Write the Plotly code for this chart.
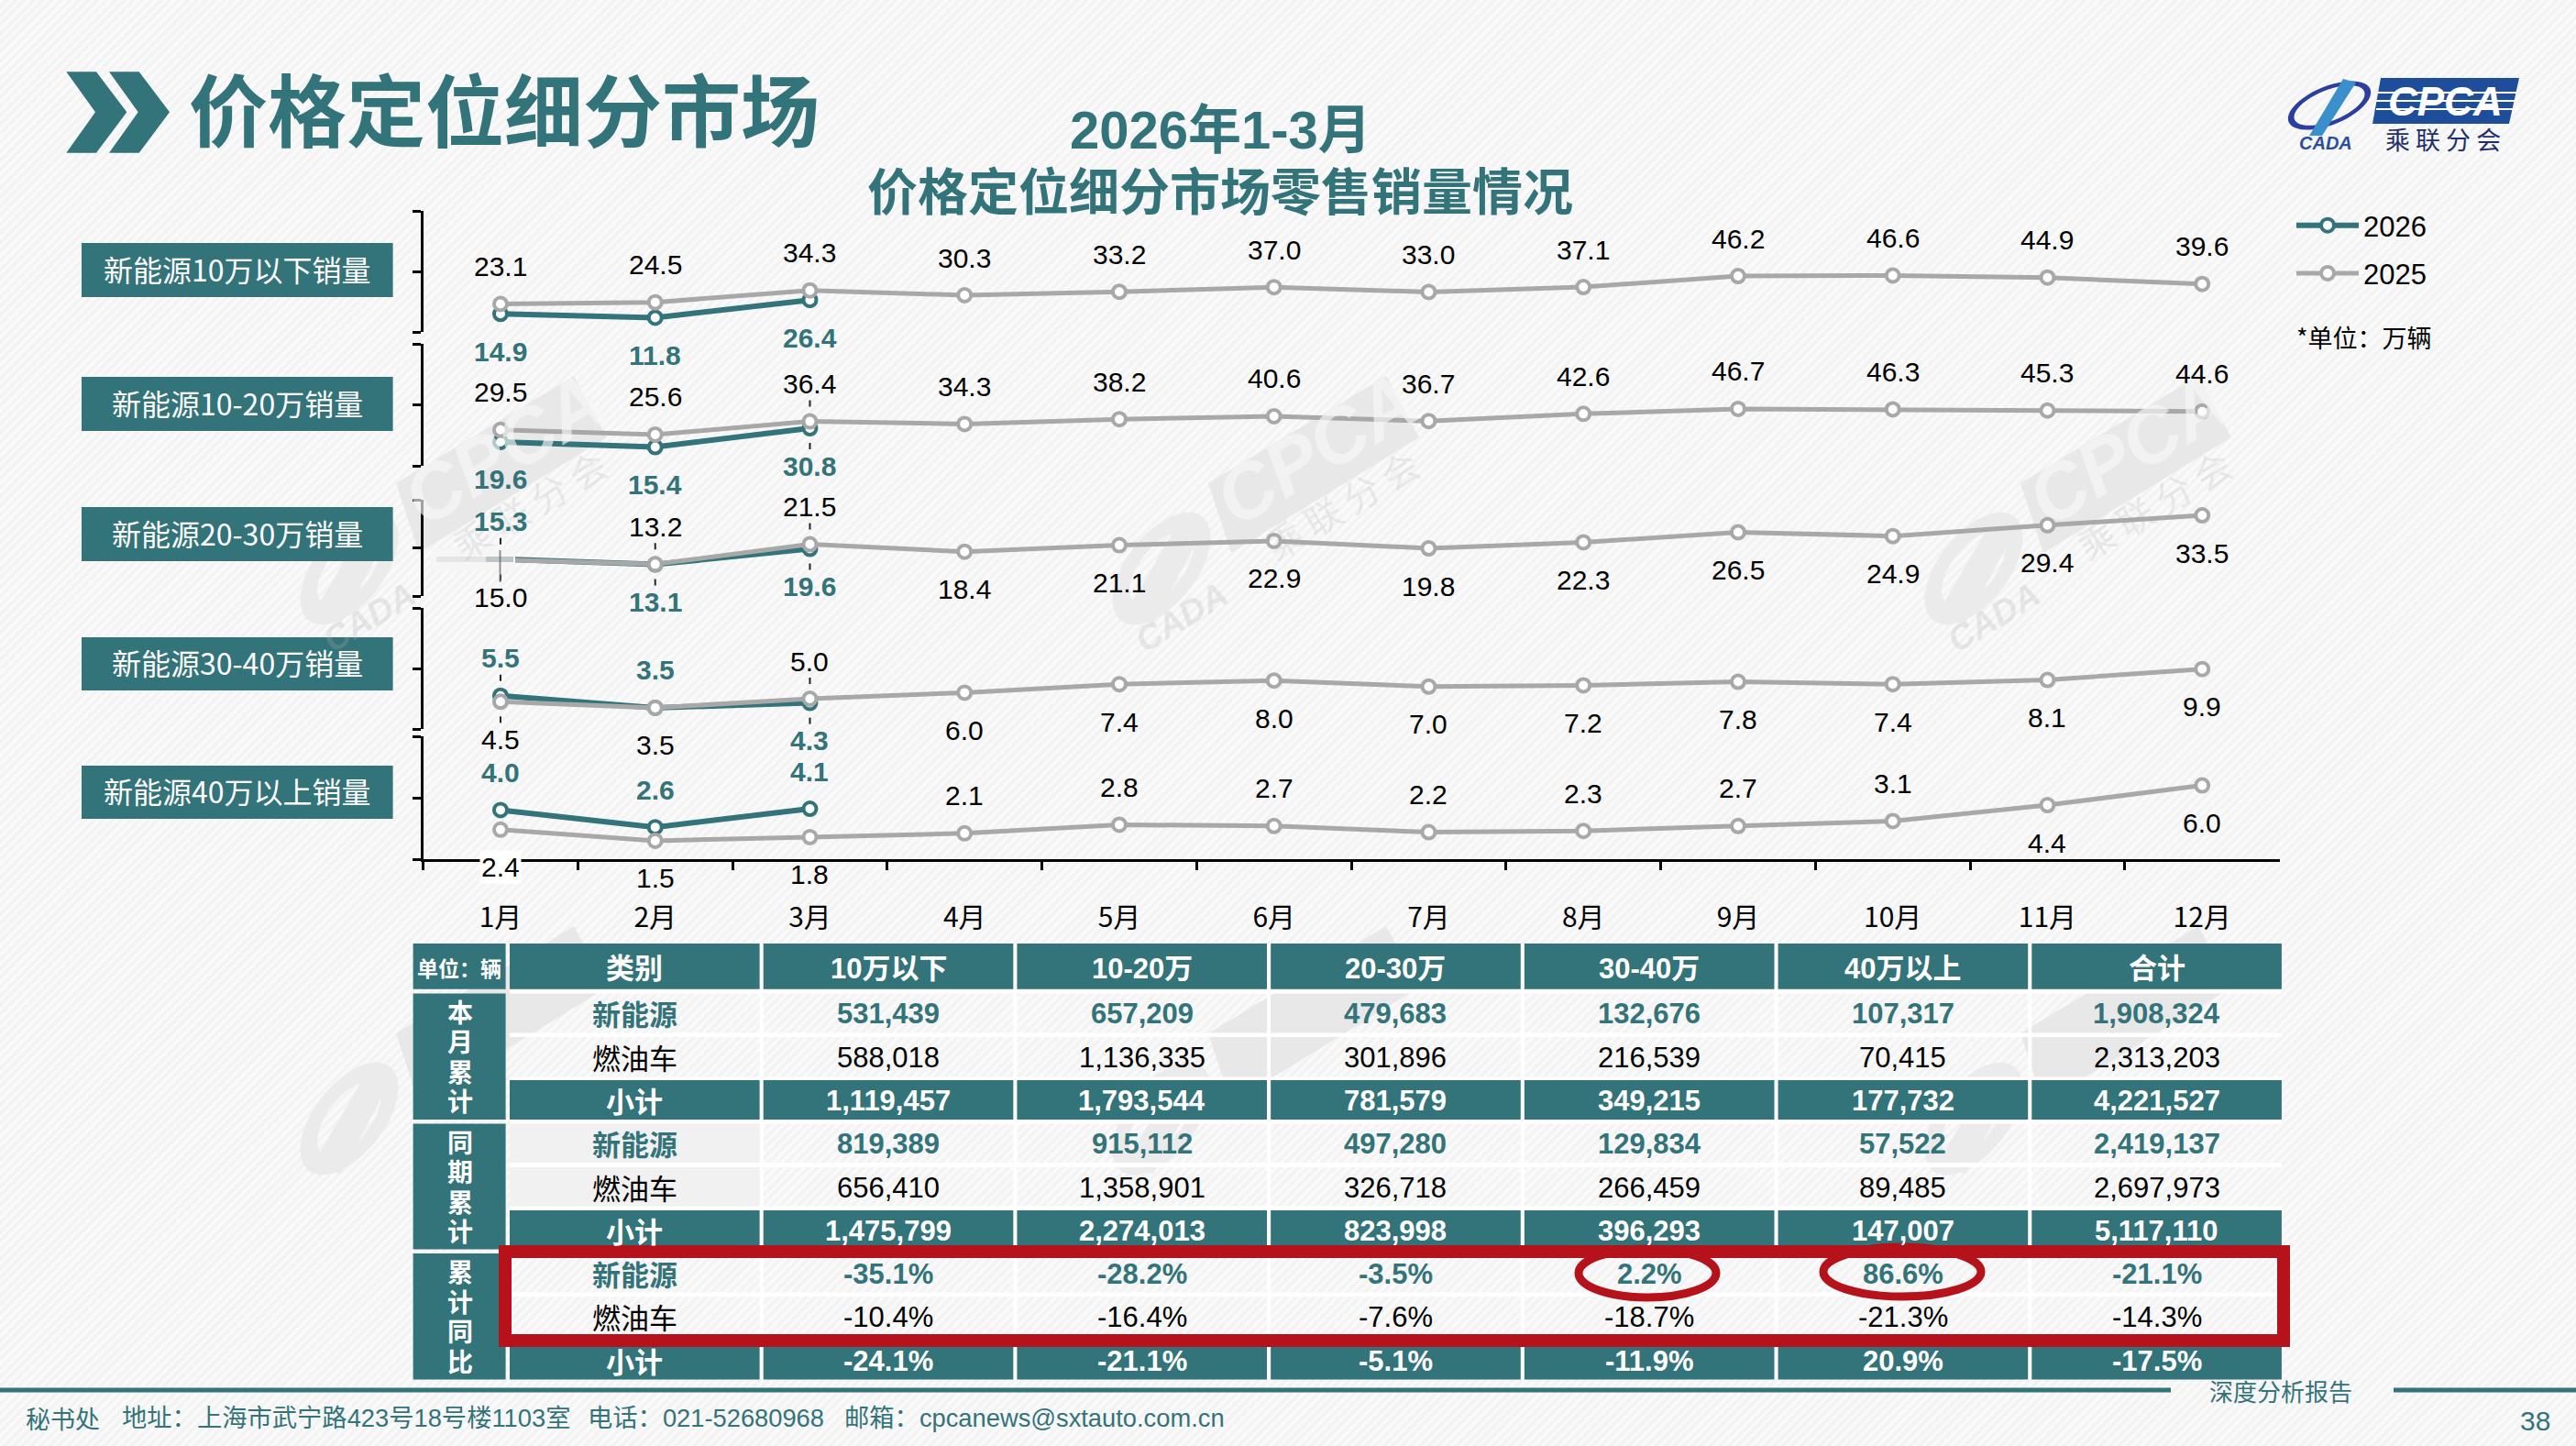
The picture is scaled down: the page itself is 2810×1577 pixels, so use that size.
import base64
import numpy as np
import plotly.graph_objects as go

W, H = 2810, 1577
TEAL = "#33737A"
GRAY = "#A8A8A8"
RED = "#B5121B"
BG = "#F6F6F6"
FONT = "Liberation Sans, Noto Sans CJK SC, sans-serif"
CJK = "Noto Sans CJK SC, Liberation Sans, sans-serif"

MONTHS = ["1月", "2月", "3月", "4月", "5月", "6月", "7月", "8月", "9月", "10月", "11月", "12月"]
SEGMENTS = ["新能源10万以下销量", "新能源10-20万销量", "新能源20-30万销量", "新能源30-40万销量", "新能源40万以上销量"]

V2026_A = [14.9, 11.8, 26.4]
V2026_B = [19.6, 15.4, 30.8]
V2026_C = [15.3, 13.1, 19.6]
V2026_D = [5.5, 3.5, 4.3]
V2026_E = [4.0, 2.6, 4.1]
V2025_A = [23.1, 24.5, 34.3, 30.3, 33.2, 37.0, 33.0, 37.1, 46.2, 46.6, 44.9, 39.6]
V2025_B = [29.5, 25.6, 36.4, 34.3, 38.2, 40.6, 36.7, 42.6, 46.7, 46.3, 45.3, 44.6]
V2025_C = [15.0, 13.2, 21.5, 18.4, 21.1, 22.9, 19.8, 22.3, 26.5, 24.9, 29.4, 33.5]
V2025_D = [4.5, 3.5, 5.0, 6.0, 7.4, 8.0, 7.0, 7.2, 7.8, 7.4, 8.1, 9.9]
V2025_E = [2.4, 1.5, 1.8, 2.1, 2.8, 2.7, 2.2, 2.3, 2.7, 3.1, 4.4, 6.0]

TABLE_COLUMNS = ["10万以下", "10-20万", "20-30万", "30-40万", "40万以上", "合计"]
YTD_NEV = [531439, 657209, 479683, 132676, 107317, 1908324]
YTD_ICE = [588018, 1136335, 301896, 216539, 70415, 2313203]
YTD_SUM = [1119457, 1793544, 781579, 349215, 177732, 4221527]
PRI_NEV = [819389, 915112, 497280, 129834, 57522, 2419137]
PRI_ICE = [656410, 1358901, 326718, 266459, 89485, 2697973]
PRI_SUM = [1475799, 2274013, 823998, 396293, 147007, 5117110]
YOY_NEV = [-35.1, -28.2, -3.5, 2.2, 86.6, -21.1]
YOY_ICE = [-10.4, -16.4, -7.6, -18.7, -21.3, -14.3]
YOY_SUM = [-24.1, -21.1, -5.1, -11.9, 20.9, -17.5]

# ---- layout (styling only) ----
PANELS = [(230, 362, 100), (375, 508, 100), (545, 650, 40), (663, 795, 20), (803, 937, 10)]
BOX_Y = [(265, 324), (411, 470), (553, 612), (695, 753), (835, 893)]
S26 = [V2026_A, V2026_B, V2026_C, V2026_D, V2026_E]
S25 = [V2025_A, V2025_B, V2025_C, V2025_D, V2025_E]
# direction of each data label: +1 above the point, -1 below
DIR26 = [[-1] * 3, [-1] * 3, [1, -1, -1], [1, 1, -1], [1, 1, 1]]
DIR25 = [[1] * 12, [1] * 12, [-1, 1, 1] + [-1] * 9, [-1, -1, 1] + [-1] * 9,
         [-1, -1, -1] + [1] * 7 + [-1, -1]]
LEADERS = {1: [2], 2: [0, 1, 2], 3: [0, 2]}
LABEL_OFFSET = 41

def X(p): return p / W
def Y(p): return 1 - p / H

shapes, ann = [], []

def rect(x0, y0, x1, y1, fill, layer="below"):
    shapes.append(dict(type="rect", xref="paper", yref="paper", x0=X(x0), x1=X(x1), y0=Y(y0), y1=Y(y1),
                       fillcolor=fill, line=dict(width=0), layer=layer))

def poly(pts, fill, layer="below"):
    d = "M" + " L".join(f"{X(a):.5f},{Y(b):.5f}" for a, b in pts) + " Z"
    shapes.append(dict(type="path", xref="paper", yref="paper", path=d, fillcolor=fill, line=dict(width=0), layer=layer))

def hline(x0, x1, y, color, w, layer="below"):
    shapes.append(dict(type="line", xref="paper", yref="paper", x0=X(x0), x1=X(x1), y0=Y(y), y1=Y(y),
                       line=dict(color=color, width=w), layer=layer))

def vline(x, y0, y1, color, w, layer="below"):
    shapes.append(dict(type="line", xref="paper", yref="paper", x0=X(x), x1=X(x), y0=Y(y0), y1=Y(y1),
                       line=dict(color=color, width=w), layer=layer))

def text(x, y, s, size, color="#000000", bold=False, anchor="center", font=FONT, **kw):
    if bold:
        s = f"<b>{s}</b>"
    ann.append(dict(xref="paper", yref="paper", x=X(x), y=Y(y), text=s, showarrow=False, xanchor=anchor,
                    yanchor="middle", font=dict(size=size, color=color, family=font), **kw))

def ring(cx, cy, rx, ry, deg, thick, fill):
    t = np.linspace(0, 2 * np.pi, 49)
    a = np.radians(deg)
    def pts(r1, r2, tt):
        return [(cx + r1 * np.cos(q) * np.cos(a) - r2 * np.sin(q) * np.sin(a),
                 cy + r1 * np.cos(q) * np.sin(a) + r2 * np.sin(q) * np.cos(a)) for q in tt]
    outer, inner = pts(rx, ry, t), pts(rx - thick, ry - thick * 0.6, t[::-1])
    d = "M" + " L".join(f"{X(p):.5f},{Y(q):.5f}" for p, q in outer) + " Z M" + \
        " L".join(f"{X(p):.5f},{Y(q):.5f}" for p, q in inner) + " Z"
    shapes.append(dict(type="path", xref="paper", yref="paper", path=d, fillcolor=fill, line=dict(width=0), layer="below"))

# ---- watermarks ----
for dy in (0, 600):
    for dx in (0, 886, 1772):
        poly([(432 + dx, 527 + dy), (626 + dx, 410 + dy), (662 + dx, 477 + dy), (457 + dx, 603 + dy)], "#E8E8E8")
        ring(381 + dx, 620 + dy, 72, 38, -52, 24, "#EBEBEB")
        poly([(340 + dx, 672 + dy), (372 + dx, 680 + dy), (428 + dx, 575 + dy), (402 + dx, 566 + dy)], "#EBEBEB")
        if dy == 0:
            text(550 + dx, 490, "<i><b>CPCA</b></i>", 84, "rgba(248,248,248,0.65)", textangle=-31)
            text(577 + dx, 550, "乘 联 分 会", 40, "rgba(175,175,175,0.22)", textangle=-31, font=CJK)
            text(403 + dx, 673, "<i><b>CADA</b></i>", 38, "rgba(175,175,175,0.25)", textangle=-31)

# ---- header ----
poly([(72.3, 78.3), (105, 78.3), (138.3, 122.3), (105, 166.7), (72.3, 166.7), (104, 122.3)], TEAL)
poly([(119, 78.3), (151.7, 78.3), (185, 122.3), (151.7, 166.7), (119, 166.7), (150.7, 122.3)], TEAL)
text(550, 124, "价格定位细分市场", 86, TEAL, True, font=FONT)
text(1331, 141, "2026年1-3月", 58, TEAL, True)
text(1331, 210, "价格定位细分市场零售销量情况", 55, TEAL, True, font=FONT)

# logo
poly([(2597, 85), (2748, 85), (2737, 135), (2588, 135)], "#1E4E9A")
for yy in (101, 110, 119):
    hline(2592, 2745, yy, "#FFFFFF", 2)
ring(2541, 115, 48, 21, -22, 7, "#2C3F9E")
poly([(2519, 148), (2533, 148), (2570, 90), (2556, 86)], "#3B8FCB")
text(2667, 110, "<i><b>CPCA</b></i>", 44, "#FFFFFF")
text(2665, 151, "乘 联 分 会", 27, "#1F2F6B", font=CJK)
text(2537, 156, "<i><b>CADA</b></i>", 20, "#2A4DA0")

# segment boxes
for name, (y0, y1) in zip(SEGMENTS, BOX_Y):
    rect(89, y0, 428.6, y1, TEAL)
    text(259, (y0 + y1) / 2 - 2, name, 32, "#FFFFFF", font=CJK)

text(2503, 368, "*单位：万辆", 27, "#000000", anchor="left", font=CJK)

# ---- chart ----
fig = go.Figure()
xaxis_dom = [461.6 / W, 2486.6 / W]
layout_axes = {}
for i, (top, bottom, ymax) in enumerate(PANELS):
    name = "y" if i == 0 else f"y{i + 1}"
    key = "yaxis" if i == 0 else f"yaxis{i + 1}"
    layout_axes[key] = dict(domain=[1 - bottom / H, 1 - top / H], range=[0, ymax], anchor="x",
                            tickmode="array", tickvals=[0, ymax / 2, ymax], showticklabels=False,
                            ticks="outside", ticklen=9, tickwidth=2.5, tickcolor="#000000",
                            showline=True, linecolor="#000000", linewidth=2.5,
                            showgrid=False, zeroline=False, fixedrange=True)
    for label, vals, color, dirs in (("2026", S26[i], TEAL, DIR26[i]), ("2025", S25[i], GRAY, DIR25[i])):
        fig.add_trace(go.Scatter(
            x=MONTHS[:len(vals)], y=vals, yaxis=name, xaxis="x", mode="lines+markers", name=label,
            showlegend=i == 0, legendgroup=label, cliponaxis=False, hoverinfo="skip",
            line=dict(color=color, width=6 if label == "2026" else 5),
            marker=dict(size=14, color="#FFFFFF", line=dict(color=color, width=4))))
        for m, v in enumerate(vals):
            d = dirs[m]
            extra = dict(bgcolor="#FFFFFF") if (i == 4 and m == 0 and label == "2025") else {}
            s = f"{v:.1f}"
            ann.append(dict(xref="x", yref=name, x=MONTHS[m], y=v, yshift=d * LABEL_OFFSET, showarrow=False,
                            text=f"<b>{s}</b>" if label == "2026" else s, yanchor="middle", xanchor="center",
                            font=dict(size=30, family=FONT, color=TEAL if label == "2026" else "#000000"), **extra))
            if m in LEADERS.get(i, []):
                shapes.append(dict(type="line", xref="x", yref=name, ysizemode="pixel", yanchor=v,
                                   x0=MONTHS[m], x1=MONTHS[m], y0=d * 16, y1=d * 23,
                                   line=dict(color="#222222", width=2), layer="above"))

# faded first point in the 20-30 panel
rect(470, 598, 562, 622, BG, layer="above")
hline(476, 530, 610, "rgba(170,170,170,0.22)", 6, layer="above")
hline(530, 560, 610, "rgba(130,150,150,0.5)", 6, layer="above")
vline(545.5, 600, 635, "rgba(110,110,110,0.75)", 2, layer="above")

# ---- table ----
COL_X = [556 + 276.72 * k for k in range(7)]
CELL_W = 272.6
ROWS = [(1029, 1078.7), (1083.4, 1126.5), (1131, 1174.6), (1178, 1221), (1225.5, 1268), (1273, 1315.6),
        (1320, 1362.6), (1367, 1409.6), (1414, 1456.7), (1462, 1504.4)]

# white grid lines between the cells
for r in range(1, 10):
    y = (ROWS[r - 1][1] + ROWS[r][0]) / 2
    hline(556, 2489, y, "#FFFFFF", ROWS[r][0] - ROWS[r - 1][1])
for c in range(1, 7):
    vline(COL_X[c] - 2, 1029, 1504.4, "#FFFFFF", 4)

rect(450.6, 1029, 551.6, 1078.7, TEAL)
text(501, 1055, "单位：辆", 23, "#FFFFFF", True, font=CJK)
for c, label in enumerate(["类别"] + TABLE_COLUMNS):
    rect(COL_X[c], 1029, COL_X[c] + CELL_W, 1078.7, TEAL)
    text(COL_X[c] + CELL_W / 2, 1056, label, 31, "#FFFFFF", True)

GROUPS = [("本月累计", 1083.4, 1221, 1154), ("同期累计", 1225.5, 1362.6, 1296), ("累计同比", 1367, 1504.4, 1437.5)]
for label, y0, y1, yc in GROUPS:
    rect(450.6, y0, 551.6, y1, TEAL)
    for k, ch in enumerate(label):
        text(502, yc + (k - 1.5) * 32.5, ch, 28, "#FFFFFF", True, font=FONT)

BODY = [YTD_NEV, YTD_ICE, YTD_SUM, PRI_NEV, PRI_ICE, PRI_SUM, YOY_NEV, YOY_ICE, YOY_SUM]
KINDS = ["新能源", "燃油车", "小计"] * 3
for r, (row, kind) in enumerate(zip(BODY, KINDS)):
    y0, y1 = ROWS[r + 1]
    yc = (y0 + y1) / 2
    color = {"新能源": TEAL, "燃油车": "#000000", "小计": "#FFFFFF"}[kind]
    bold = kind != "燃油车"
    if kind == "小计":
        for c in range(7):
            rect(COL_X[c], y0, COL_X[c] + CELL_W, y1, TEAL)
    elif r in (3, 4):
        rect(COL_X[0], y0, COL_X[0] + CELL_W, y1, "#F1F1F1")
    text(COL_X[0] + CELL_W / 2, yc, kind, 31, color, bold, font=CJK)
    for c, v in enumerate(row):
        s = f"{v:.1f}%" if r >= 6 else f"{v:,}"
        text(COL_X[c + 1] + CELL_W / 2, yc + 1, s, 31, color, bold)

# red highlights
shapes.append(dict(type="rect", xref="paper", yref="paper", x0=X(551), x1=X(2491), y0=Y(1365), y1=Y(1462),
                   line=dict(color=RED, width=14), layer="above"))
for x0, x1, y0, y1 in ((1722, 1872, 1362, 1415), (1989, 2161, 1360, 1414)):
    shapes.append(dict(type="circle", xref="paper", yref="paper", x0=X(x0), x1=X(x1), y0=Y(y0), y1=Y(y1),
                       line=dict(color=RED, width=9), layer="above"))

# ---- footer ----
hline(0, 2368, 1516, TEAL, 5)
hline(2611, 2810, 1516, TEAL, 5)
text(2488, 1516, "深度分析报告", 26, TEAL, font=CJK)
text(26, 1546, "秘书处", 27, TEAL, anchor="left", font=CJK)
text(131, 1546, "地址：上海市武宁路423号18号楼1103室", 27.3, TEAL, anchor="left")
text(639, 1546, "电话：021-52680968", 27.3, TEAL, anchor="left")
text(919, 1546, "邮箱：cpcanews@sxtauto.com.cn", 27.3, TEAL, anchor="left")
text(2765, 1549, "38", 30, TEAL)

svg = (f'<svg xmlns="http://www.w3.org/2000/svg" width="{W}" height="{H}"><defs>'
       '<pattern id="p" width="7" height="7" patternUnits="userSpaceOnUse" patternTransform="rotate(45)">'
       '<rect width="7" height="7" fill="#F3F3F3"/><rect width="3.5" height="7" fill="#FAFAFA"/></pattern></defs>'
       f'<rect width="{W}" height="{H}" fill="url(#p)"/></svg>')
bg_uri = "data:image/svg+xml;base64," + base64.b64encode(svg.encode()).decode()

fig.update_layout(
    width=W, height=H, margin=dict(l=0, r=0, t=0, b=0, pad=0),
    paper_bgcolor=BG, plot_bgcolor="rgba(0,0,0,0)",
    font=dict(family=FONT, color="#000000", size=30),
    images=[dict(source=bg_uri, xref="paper", yref="paper", x=0, y=1, sizex=1, sizey=1,
                 sizing="stretch", layer="below", xanchor="left", yanchor="top")],
    xaxis=dict(domain=xaxis_dom, type="category", categoryorder="array", categoryarray=MONTHS,
               range=[-0.5, 11.5], anchor="y5", tickson="boundaries", ticks="outside", ticklen=9,
               tickwidth=2.5, tickcolor="#000000", showline=True, linecolor="#000000", linewidth=3,
               showgrid=False, zeroline=False, fixedrange=True, tickangle=0,
               tickfont=dict(size=30, family=CJK, color="#000000"), ticklabelstandoff=35),
    legend=dict(x=2500 / W, y=1 - 219 / H, xanchor="left", yanchor="top", bgcolor="rgba(0,0,0,0)",
                itemwidth=68, tracegroupgap=9, font=dict(size=31, family=FONT, color="#000000"),
                traceorder="grouped"),
    shapes=shapes, annotations=ann, showlegend=True, hovermode=False,
    **layout_axes)

fig.write_html("out.html", config=dict(displayModeBar=False),
               post_script="document.body.style.margin='0';document.documentElement.style.overflow='hidden';")
